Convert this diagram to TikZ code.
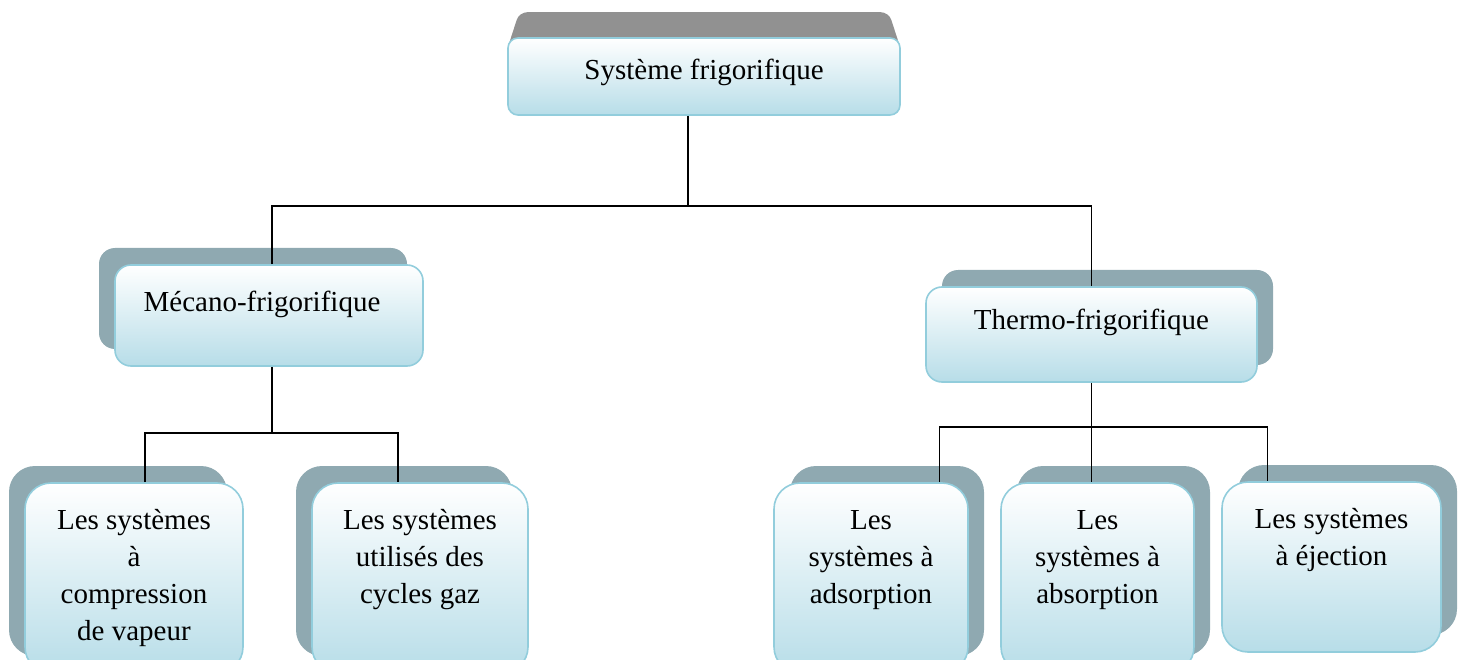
\documentclass[tikz,border=0pt]{standalone}
\usepackage{fontspec}
\setmainfont{Liberation Serif}
\usetikzlibrary{calc,shadows,backgrounds}
\definecolor{boxblue}{RGB}{183,221,232}
\definecolor{boxedge}{RGB}{146,205,220}
\definecolor{shadegray}{RGB}{143,169,177}
\definecolor{topgray}{RGB}{145,145,145}

\begin{document}
\begin{tikzpicture}[x=1pt, y=-1pt,
  font=\fontsize{29}{37}\selectfont,
  card/.style={draw=boxedge, line width=1.6pt, top color=white, middle color=white!75!boxblue, bottom color=boxblue, align=center, inner sep=0pt},
  castleft/.style={general shadow={shadow xshift=-16pt, shadow yshift=17pt, fill=shadegray}},
  castright/.style={general shadow={shadow xshift=16pt, shadow yshift=17pt, fill=shadegray}},
  leaf/.style={card, rounded corners=26pt},
  link/.style={line width=1.8pt}]
\useasboundingbox (0,0) rectangle (1464,660);
\clip (0,0) rectangle (1464,660);
% root
\node[card, rounded corners=10pt, minimum width=392pt, text height=42pt, text depth=35pt] (sys) at (704,76.5) {Système frigorifique};
\begin{scope}[on background layer]
\fill[topgray, rounded corners=8pt] ([yshift=-12pt]sys.north west) -- ([xshift=12pt,yshift=25pt]sys.north west) -- ([xshift=-12pt,yshift=25pt]sys.north east) -- ([yshift=-12pt]sys.north east) -- cycle;
\end{scope}
% second level
\node[card, castleft, rounded corners=16pt, minimum width=308pt, text height=46pt, text depth=55pt] (meca) at (269,315.5) {Mécano-frigorifique\hspace*{14pt}};
\node[card, castright, rounded corners=16pt, minimum width=331pt, text height=42pt, text depth=53pt] (thermo) at (1091.5,334.5) {Thermo-frigorifique};
% leaves (baseline sits on the last line)
\node[leaf, castleft, minimum width=218pt, text height=157pt, text depth=33pt] (vap) at (134,578) {Les systèmes\\à\\compression\\de vapeur};
\node[leaf, castleft, minimum width=216pt, text height=120pt, text depth=70pt] (gaz) at (420,578) {Les systèmes\\utilisés des\\cycles gaz};
\node[leaf, castright, minimum width=194pt, text height=120pt, text depth=70pt] (adsorp) at (871,578) {Les\\systèmes à\\adsorption};
\node[leaf, castright, minimum width=193pt, text height=120pt, text depth=70pt] (absorp) at (1097.5,578) {Les\\systèmes à\\absorption};
\node[leaf, castright, minimum width=219pt, text height=83pt, text depth=87pt] (eject) at (1331.5,567) {Les systèmes\\à éjection};
% connectors
\coordinate (sysA) at ($(sys.south west)!0.46!(sys.south east)$);
\coordinate (mecaA) at ($(meca.north west)!0.51!(meca.north east)$);
\coordinate (mecaB) at ($(meca.south west)!0.51!(meca.south east)$);
\coordinate (thermoA) at ($(thermo.north west)!0.50!(thermo.north east)$);
\coordinate (vapA) at ($(vap.north west)!0.55!(vap.north east)$);
\coordinate (gazA) at ($(gaz.north west)!0.40!(gaz.north east)$);
\coordinate (adsorpA) at ($(adsorp.north west)!0.85!(adsorp.north east)$);
\coordinate (ejectA) at ($(eject.north west)!0.21!(eject.north east)$);
\draw[link] (sysA) -- ++(0,90) coordinate (sysbus);
\draw[link] (mecaA) |- (sysbus) -| (thermoA);
\draw[link] (mecaB) -- ++(0,66) coordinate (mecabus);
\draw[link] (vapA) |- (mecabus) -| (gazA);
\draw[link] (thermo.south) -- ++(0,44) coordinate (thermobus);
\draw[link] (adsorpA) |- (thermobus) -| (ejectA);
\draw[link] (thermobus) -- (thermobus |- absorp.north);
\end{tikzpicture}
\end{document}
